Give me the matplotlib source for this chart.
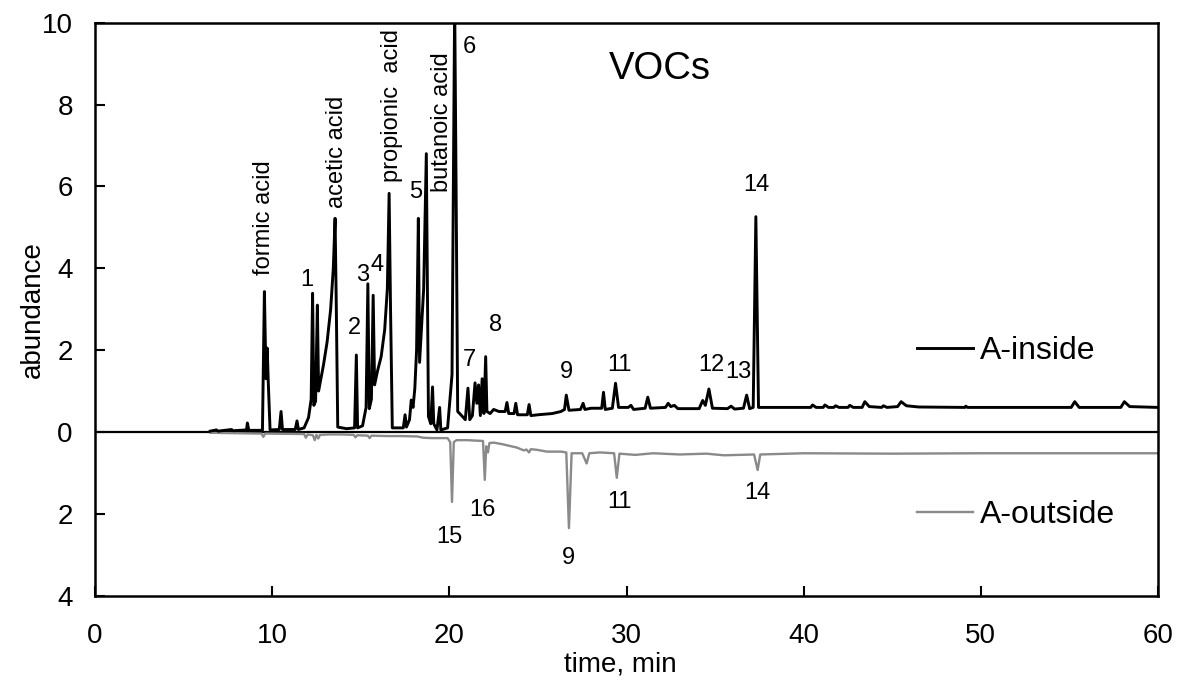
import matplotlib
matplotlib.use("Agg")
import matplotlib.pyplot as plt
from matplotlib.ticker import FixedLocator, FuncFormatter

plt.rcParams['font.family'] = ['Liberation Sans', 'DejaVu Sans']

# A-inside chromatogram: retention time (min) and abundance
inside_time = [
    6.5, 6.85, 6.95, 7.7, 7.8, 8.55, 8.6, 8.68, 9.45, 9.56, 9.65, 9.72, 9.78, 9.88,
    10.4, 10.5, 10.58, 11.3, 11.4, 11.48, 11.8, 12.05, 12.2, 12.28, 12.35, 12.45,
    12.55, 12.62, 12.75, 12.9, 13.1, 13.3, 13.45, 13.55, 13.62, 13.7, 14.2, 14.65,
    14.75, 14.82, 15.1, 15.3, 15.4, 15.48, 15.6, 15.7, 15.78, 15.95, 16.15, 16.35,
    16.5, 16.6, 16.68, 16.78, 17.4, 17.5, 17.58, 17.75, 17.85, 17.95, 18.05, 18.15,
    18.25, 18.32, 18.4, 18.55, 18.7, 18.82, 18.95, 19.05, 19.12, 19.3, 19.45, 19.52,
    19.9, 20.15, 20.3, 20.38, 20.47, 20.65, 20.9, 21.05, 21.15, 21.3, 21.45, 21.55,
    21.65, 21.75, 21.85, 21.95, 22.05, 22.12, 22.3, 22.5, 22.8, 23.15, 23.25, 23.35,
    23.65, 23.75, 23.85, 24.4, 24.5, 24.6, 25.0, 25.8, 26.3, 26.5, 26.6, 26.75,
    27.4, 27.55, 27.65, 28.0, 28.6, 28.7, 28.8, 29.2, 29.38, 29.55, 30.1, 30.25,
    30.4, 31.05, 31.2, 31.35, 32.2, 32.35, 32.5, 32.7, 32.9, 34.1, 34.3, 34.45,
    34.65, 34.85, 35.7, 35.9, 36.1, 36.6, 36.78, 36.95, 37.15, 37.3, 37.45, 37.7,
    40.4, 40.5, 40.7, 41.1, 41.2, 41.4, 41.7, 41.8, 42.0, 42.5, 42.6, 42.8, 43.3,
    43.45, 43.7, 44.4, 44.5, 44.7, 45.3, 45.5, 45.8, 46.5, 49.1, 49.15, 49.25,
    55.1, 55.3, 55.55, 57.9, 58.1, 58.4, 60.0,
]
inside_abund = [
    0.02, 0.05, 0.02, 0.06, 0.03, 0.05, 0.22, 0.04, 0.04, 3.43, 1.3, 2.05, 1.2, 0.05,
    0.06, 0.5, 0.06, 0.06, 0.27, 0.06, 0.1, 0.35, 0.8, 3.39, 0.65, 0.75,
    3.1, 1.0, 1.3, 1.65, 2.2, 3.0, 4.0, 5.22, 3.0, 0.12, 0.08, 0.1,
    1.88, 0.1, 0.15, 0.6, 3.62, 0.57, 0.8, 3.34, 1.15, 1.5, 1.84, 2.5,
    3.5, 5.83, 3.0, 0.1, 0.1, 0.42, 0.12, 0.3, 0.78, 0.6, 1.06, 2.0,
    5.22, 1.7, 2.32, 3.5, 6.8, 0.38, 0.2, 1.1, 0.2, 0.05, 0.6, 0.05,
    0.1, 1.4, 10.5, 6.0, 0.5, 0.42, 0.3, 1.07, 0.3, 0.4, 1.2, 0.7,
    1.15, 0.4, 1.3, 0.45, 1.84, 0.5, 0.45, 0.55, 0.5, 0.5, 0.72, 0.45,
    0.45, 0.7, 0.42, 0.42, 0.67, 0.4, 0.42, 0.45, 0.5, 0.55, 0.9, 0.53,
    0.55, 0.7, 0.55, 0.58, 0.58, 0.97, 0.55, 0.58, 1.19, 0.6, 0.6, 0.65,
    0.55, 0.58, 0.85, 0.58, 0.6, 0.7, 0.62, 0.65, 0.57, 0.57, 0.77, 0.65,
    1.05, 0.58, 0.57, 0.63, 0.56, 0.58, 0.9, 0.57, 0.6, 5.26, 0.6, 0.6,
    0.6, 0.66, 0.6, 0.6, 0.66, 0.6, 0.6, 0.64, 0.6, 0.6, 0.65, 0.6, 0.6,
    0.74, 0.62, 0.6, 0.64, 0.6, 0.62, 0.74, 0.64, 0.61, 0.6, 0.63, 0.6,
    0.6, 0.74, 0.6, 0.6, 0.74, 0.62, 0.6,
]

# A-outside chromatogram, plotted downward (negative abundance)
outside_time = [
    6.5, 9.4, 9.5, 9.6, 11.8, 11.9, 12.0, 12.3, 12.4, 12.5, 12.6, 12.7, 13.2, 13.9,
    14.6, 14.7, 14.8, 15.4, 15.5, 15.6, 16.5, 17.3, 18.2, 18.5, 19.0, 19.9, 20.05,
    20.15, 20.25, 20.4, 21.0, 21.9, 22.0, 22.08, 22.18, 22.26, 22.5, 23.0, 23.8,
    24.2, 24.35, 24.5, 24.6, 25.0, 25.5, 26.3, 26.6, 26.75, 26.9, 27.5, 27.75,
    27.9, 28.5, 29.3, 29.45, 29.6, 30.5, 31.5, 33.0, 34.5, 35.5, 37.2, 37.4, 37.55,
    40.0, 45.0, 50.0, 55.0, 60.0,
]
outside_abund = [
    -0.02, -0.04, -0.12, -0.04, -0.05, -0.14, -0.06, -0.08, -0.2, -0.07, -0.16, -0.07, -0.06, -0.06,
    -0.07, -0.13, -0.08, -0.09, -0.15, -0.09, -0.1, -0.1, -0.11, -0.14, -0.15, -0.15, -0.25,
    -1.71, -0.25, -0.2, -0.2, -0.22, -1.17, -0.35, -0.5, -0.27, -0.26, -0.3, -0.38,
    -0.45, -0.43, -0.5, -0.42, -0.44, -0.48, -0.48, -0.5, -2.35, -0.52, -0.52, -0.77,
    -0.52, -0.5, -0.52, -1.12, -0.53, -0.56, -0.52, -0.55, -0.53, -0.57, -0.55, -0.93, -0.55,
    -0.52, -0.53, -0.52, -0.52, -0.52,
]

# Compound names written vertically above their peaks
compound_names = ["formic acid", "acetic acid", "propionic  acid", "butanoic acid"]
compound_time = [9.54, 13.65, 16.75, 19.6]
compound_y = [3.84, 5.47, 6.11, 5.87]

# Peak numbers above the A-inside trace
inside_peak_labels = ["1", "2", "3", "4", "5", "6", "7", "8", "9", "11", "12", "13", "14"]
inside_peak_time = [11.95, 14.67, 15.1, 15.9, 18.1, 21.15, 21.15, 22.6, 26.6, 29.6, 34.8, 36.3, 37.35]
inside_peak_y = [3.71, 2.53, 3.83, 4.08, 5.87, 9.4, 1.76, 2.61, 1.47, 1.64, 1.64, 1.47, 6.03]

# Peak numbers below the A-outside trace
outside_peak_labels = ["15", "16", "9", "11", "14"]
outside_peak_time = [20.0, 21.85, 26.7, 29.6, 37.4]
outside_peak_y = [-2.56, -1.9, -3.08, -1.71, -1.49]

x_ticks = [0, 10, 20, 30, 40, 50, 60]
y_ticks = [-4, -2, 0, 2, 4, 6, 8, 10]

fig = plt.figure(figsize=(11.79, 6.9), dpi=100)
ax = fig.add_axes([0.0806, 0.1367, 0.9016, 0.8304])

ax.axhline(0, color="black", lw=1.6, zorder=1)
line_in, = ax.plot(inside_time, inside_abund, color="black", lw=2.1, zorder=3)
line_out, = ax.plot(outside_time, outside_abund, color="#8a8a8a", lw=1.7, zorder=2)

ax.set_xlim(0, 60)
ax.set_ylim(-4, 10)
ax.xaxis.set_major_locator(FixedLocator(x_ticks))
ax.yaxis.set_major_locator(FixedLocator(y_ticks))
ax.yaxis.set_major_formatter(FuncFormatter(lambda v, p: f"{abs(v):g}"))
ax.tick_params(axis="both", direction="in", length=7, width=1.5, labelsize=20)
ax.tick_params(axis="y", pad=16)
ax.tick_params(axis="x", pad=20)
for s in ax.spines.values():
    s.set_linewidth(1.8)

ax.set_xlabel("time, min", fontsize=20)
ax.set_ylabel("abundance", fontsize=20)
ax.xaxis.set_label_coords(0.494, -0.098)
ax.yaxis.set_label_coords(-0.046, 0.5)

for name, t, y in zip(compound_names, compound_time, compound_y):
    ax.text(t, y, name, rotation=90, ha="center", va="bottom", fontsize=17)
for lab, t, y in zip(inside_peak_labels, inside_peak_time, inside_peak_y):
    ax.text(t, y, lab, ha="center", va="center", fontsize=17)
for lab, t, y in zip(outside_peak_labels, outside_peak_time, outside_peak_y):
    ax.text(t, y, lab, ha="center", va="center", fontsize=17)

ax.text(31.9, 8.87, "VOCs", ha="center", va="center", fontsize=27.5)

leg_kw = dict(frameon=False, fontsize=23, handlelength=1.75, handletextpad=0.22,
              borderpad=0, borderaxespad=0, loc="center left")
leg1 = ax.legend([line_in], ["A-inside"], bbox_to_anchor=(0.773, 0.427), **leg_kw)
ax.add_artist(leg1)
ax.legend([line_out], ["A-outside"], bbox_to_anchor=(0.773, 0.141), **leg_kw)

fig.savefig("out.png", dpi=100)
